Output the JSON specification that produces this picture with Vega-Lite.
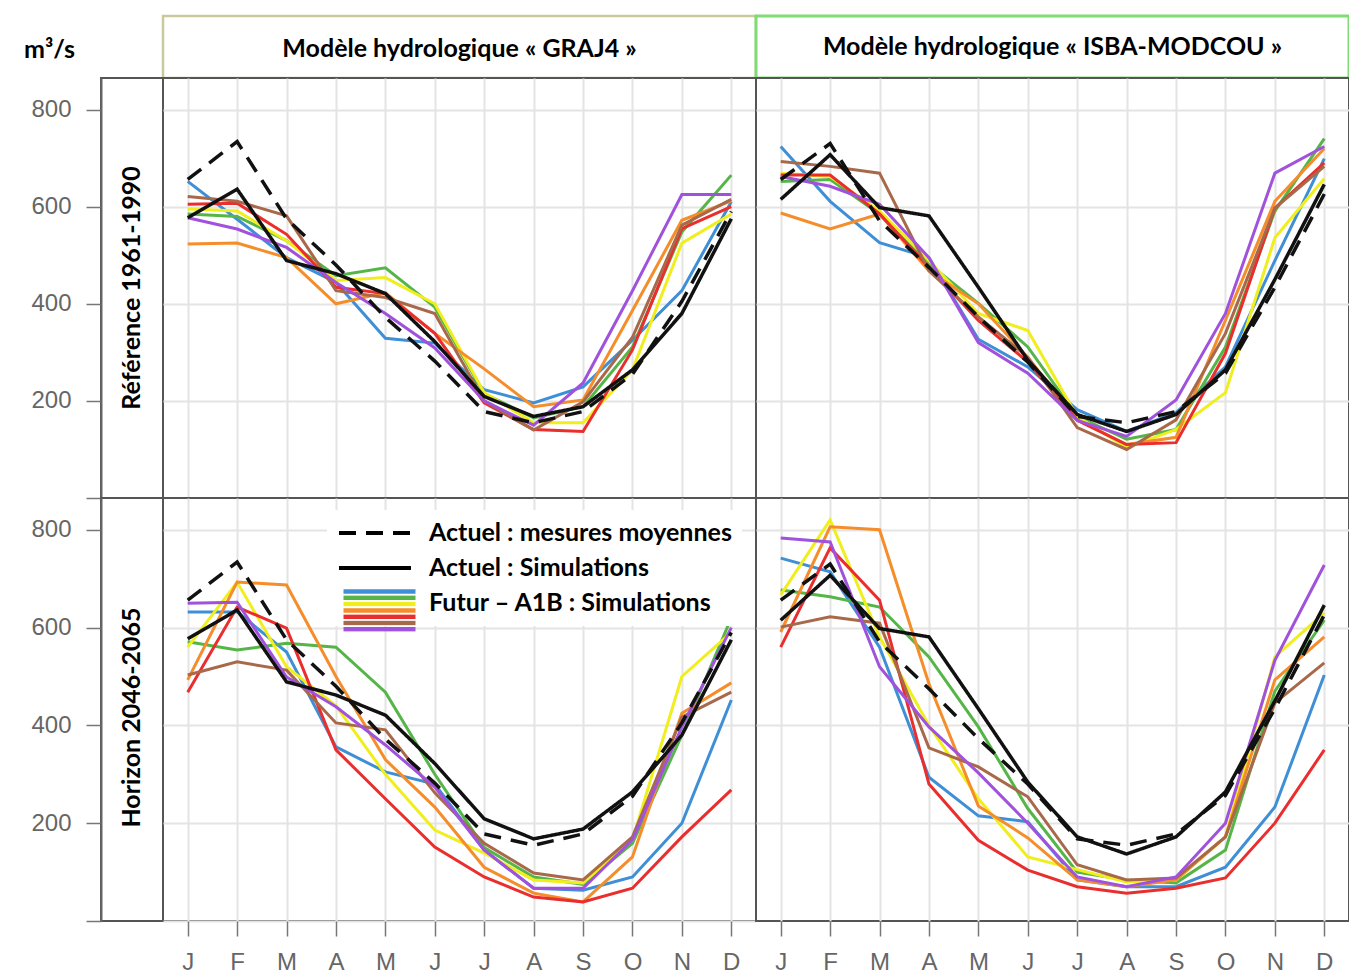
{
"$schema": "https://vega.github.io/schema/vega-lite/v6.json",
"background": "white",
"padding": {"left": 22, "top": 14, "right": 0, "bottom": 0},
"autosize": {"type": "pad"},
"config": {"view": {"stroke": "#555", "strokeWidth": 2, "fill": "white"}},
"datasets": {
"act": [
{"p":"GRAJ4","t":"Actuel : Simulations","m":1,"v":577},{"p":"GRAJ4","t":"Actuel : Simulations","m":2,"v":636},{"p":"GRAJ4","t":"Actuel : Simulations","m":3,"v":489},{"p":"GRAJ4","t":"Actuel : Simulations","m":4,"v":462},{"p":"GRAJ4","t":"Actuel : Simulations","m":5,"v":421},{"p":"GRAJ4","t":"Actuel : Simulations","m":6,"v":322},{"p":"GRAJ4","t":"Actuel : Simulations","m":7,"v":209},{"p":"GRAJ4","t":"Actuel : Simulations","m":8,"v":168},{"p":"GRAJ4","t":"Actuel : Simulations","m":9,"v":188},{"p":"GRAJ4","t":"Actuel : Simulations","m":10,"v":264},{"p":"GRAJ4","t":"Actuel : Simulations","m":11,"v":380},{"p":"GRAJ4","t":"Actuel : Simulations","m":12,"v":575},
{"p":"GRAJ4","t":"Actuel : mesures moyennes","m":1,"v":656},{"p":"GRAJ4","t":"Actuel : mesures moyennes","m":2,"v":734},{"p":"GRAJ4","t":"Actuel : mesures moyennes","m":3,"v":575},{"p":"GRAJ4","t":"Actuel : mesures moyennes","m":4,"v":480},{"p":"GRAJ4","t":"Actuel : mesures moyennes","m":5,"v":372},{"p":"GRAJ4","t":"Actuel : mesures moyennes","m":6,"v":282},{"p":"GRAJ4","t":"Actuel : mesures moyennes","m":7,"v":178},{"p":"GRAJ4","t":"Actuel : mesures moyennes","m":8,"v":155},{"p":"GRAJ4","t":"Actuel : mesures moyennes","m":9,"v":178},{"p":"GRAJ4","t":"Actuel : mesures moyennes","m":10,"v":255},{"p":"GRAJ4","t":"Actuel : mesures moyennes","m":11,"v":405},{"p":"GRAJ4","t":"Actuel : mesures moyennes","m":12,"v":590},
{"p":"ISBA","t":"Actuel : Simulations","m":1,"v":615},{"p":"ISBA","t":"Actuel : Simulations","m":2,"v":707},{"p":"ISBA","t":"Actuel : Simulations","m":3,"v":598},{"p":"ISBA","t":"Actuel : Simulations","m":4,"v":581},{"p":"ISBA","t":"Actuel : Simulations","m":5,"v":434},{"p":"ISBA","t":"Actuel : Simulations","m":6,"v":284},{"p":"ISBA","t":"Actuel : Simulations","m":7,"v":172},{"p":"ISBA","t":"Actuel : Simulations","m":8,"v":137},{"p":"ISBA","t":"Actuel : Simulations","m":9,"v":172},{"p":"ISBA","t":"Actuel : Simulations","m":10,"v":264},{"p":"ISBA","t":"Actuel : Simulations","m":11,"v":450},{"p":"ISBA","t":"Actuel : Simulations","m":12,"v":646},
{"p":"ISBA","t":"Actuel : mesures moyennes","m":1,"v":656},{"p":"ISBA","t":"Actuel : mesures moyennes","m":2,"v":730},{"p":"ISBA","t":"Actuel : mesures moyennes","m":3,"v":571},{"p":"ISBA","t":"Actuel : mesures moyennes","m":4,"v":475},{"p":"ISBA","t":"Actuel : mesures moyennes","m":5,"v":373},{"p":"ISBA","t":"Actuel : mesures moyennes","m":6,"v":280},{"p":"ISBA","t":"Actuel : mesures moyennes","m":7,"v":168},{"p":"ISBA","t":"Actuel : mesures moyennes","m":8,"v":155},{"p":"ISBA","t":"Actuel : mesures moyennes","m":9,"v":178},{"p":"ISBA","t":"Actuel : mesures moyennes","m":10,"v":257},{"p":"ISBA","t":"Actuel : mesures moyennes","m":11,"v":434},{"p":"ISBA","t":"Actuel : mesures moyennes","m":12,"v":626}
],
"fut": [
{"p":"GRAJ4","h":"ref","s":"A1B-1","m":1,"v":652},{"p":"GRAJ4","h":"ref","s":"A1B-1","m":2,"v":574},{"p":"GRAJ4","h":"ref","s":"A1B-1","m":3,"v":495},{"p":"GRAJ4","h":"ref","s":"A1B-1","m":4,"v":444},{"p":"GRAJ4","h":"ref","s":"A1B-1","m":5,"v":329},{"p":"GRAJ4","h":"ref","s":"A1B-1","m":6,"v":319},{"p":"GRAJ4","h":"ref","s":"A1B-1","m":7,"v":223},{"p":"GRAJ4","h":"ref","s":"A1B-1","m":8,"v":196},{"p":"GRAJ4","h":"ref","s":"A1B-1","m":9,"v":229},{"p":"GRAJ4","h":"ref","s":"A1B-1","m":10,"v":325},{"p":"GRAJ4","h":"ref","s":"A1B-1","m":11,"v":427},{"p":"GRAJ4","h":"ref","s":"A1B-1","m":12,"v":610},
{"p":"GRAJ4","h":"ref","s":"A1B-2","m":1,"v":585},{"p":"GRAJ4","h":"ref","s":"A1B-2","m":2,"v":580},{"p":"GRAJ4","h":"ref","s":"A1B-2","m":3,"v":530},{"p":"GRAJ4","h":"ref","s":"A1B-2","m":4,"v":458},{"p":"GRAJ4","h":"ref","s":"A1B-2","m":5,"v":474},{"p":"GRAJ4","h":"ref","s":"A1B-2","m":6,"v":393},{"p":"GRAJ4","h":"ref","s":"A1B-2","m":7,"v":215},{"p":"GRAJ4","h":"ref","s":"A1B-2","m":8,"v":165},{"p":"GRAJ4","h":"ref","s":"A1B-2","m":9,"v":188},{"p":"GRAJ4","h":"ref","s":"A1B-2","m":10,"v":311},{"p":"GRAJ4","h":"ref","s":"A1B-2","m":11,"v":548},{"p":"GRAJ4","h":"ref","s":"A1B-2","m":12,"v":665},
{"p":"GRAJ4","h":"ref","s":"A1B-3","m":1,"v":595},{"p":"GRAJ4","h":"ref","s":"A1B-3","m":2,"v":591},{"p":"GRAJ4","h":"ref","s":"A1B-3","m":3,"v":530},{"p":"GRAJ4","h":"ref","s":"A1B-3","m":4,"v":448},{"p":"GRAJ4","h":"ref","s":"A1B-3","m":5,"v":454},{"p":"GRAJ4","h":"ref","s":"A1B-3","m":6,"v":400},{"p":"GRAJ4","h":"ref","s":"A1B-3","m":7,"v":217},{"p":"GRAJ4","h":"ref","s":"A1B-3","m":8,"v":155},{"p":"GRAJ4","h":"ref","s":"A1B-3","m":9,"v":155},{"p":"GRAJ4","h":"ref","s":"A1B-3","m":10,"v":264},{"p":"GRAJ4","h":"ref","s":"A1B-3","m":11,"v":525},{"p":"GRAJ4","h":"ref","s":"A1B-3","m":12,"v":585},
{"p":"GRAJ4","h":"ref","s":"A1B-4","m":1,"v":523},{"p":"GRAJ4","h":"ref","s":"A1B-4","m":2,"v":525},{"p":"GRAJ4","h":"ref","s":"A1B-4","m":3,"v":495},{"p":"GRAJ4","h":"ref","s":"A1B-4","m":4,"v":400},{"p":"GRAJ4","h":"ref","s":"A1B-4","m":5,"v":423},{"p":"GRAJ4","h":"ref","s":"A1B-4","m":6,"v":339},{"p":"GRAJ4","h":"ref","s":"A1B-4","m":7,"v":266},{"p":"GRAJ4","h":"ref","s":"A1B-4","m":8,"v":188},{"p":"GRAJ4","h":"ref","s":"A1B-4","m":9,"v":202},{"p":"GRAJ4","h":"ref","s":"A1B-4","m":10,"v":386},{"p":"GRAJ4","h":"ref","s":"A1B-4","m":11,"v":572},{"p":"GRAJ4","h":"ref","s":"A1B-4","m":12,"v":612},
{"p":"GRAJ4","h":"ref","s":"A1B-5","m":1,"v":605},{"p":"GRAJ4","h":"ref","s":"A1B-5","m":2,"v":607},{"p":"GRAJ4","h":"ref","s":"A1B-5","m":3,"v":543},{"p":"GRAJ4","h":"ref","s":"A1B-5","m":4,"v":434},{"p":"GRAJ4","h":"ref","s":"A1B-5","m":5,"v":421},{"p":"GRAJ4","h":"ref","s":"A1B-5","m":6,"v":339},{"p":"GRAJ4","h":"ref","s":"A1B-5","m":7,"v":196},{"p":"GRAJ4","h":"ref","s":"A1B-5","m":8,"v":141},{"p":"GRAJ4","h":"ref","s":"A1B-5","m":9,"v":137},{"p":"GRAJ4","h":"ref","s":"A1B-5","m":10,"v":305},{"p":"GRAJ4","h":"ref","s":"A1B-5","m":11,"v":555},{"p":"GRAJ4","h":"ref","s":"A1B-5","m":12,"v":600},
{"p":"GRAJ4","h":"ref","s":"A1B-6","m":1,"v":621},{"p":"GRAJ4","h":"ref","s":"A1B-6","m":2,"v":611},{"p":"GRAJ4","h":"ref","s":"A1B-6","m":3,"v":581},{"p":"GRAJ4","h":"ref","s":"A1B-6","m":4,"v":427},{"p":"GRAJ4","h":"ref","s":"A1B-6","m":5,"v":413},{"p":"GRAJ4","h":"ref","s":"A1B-6","m":6,"v":380},{"p":"GRAJ4","h":"ref","s":"A1B-6","m":7,"v":200},{"p":"GRAJ4","h":"ref","s":"A1B-6","m":8,"v":140},{"p":"GRAJ4","h":"ref","s":"A1B-6","m":9,"v":198},{"p":"GRAJ4","h":"ref","s":"A1B-6","m":10,"v":331},{"p":"GRAJ4","h":"ref","s":"A1B-6","m":11,"v":562},{"p":"GRAJ4","h":"ref","s":"A1B-6","m":12,"v":615},
{"p":"GRAJ4","h":"ref","s":"A1B-7","m":1,"v":577},{"p":"GRAJ4","h":"ref","s":"A1B-7","m":2,"v":554},{"p":"GRAJ4","h":"ref","s":"A1B-7","m":3,"v":516},{"p":"GRAJ4","h":"ref","s":"A1B-7","m":4,"v":444},{"p":"GRAJ4","h":"ref","s":"A1B-7","m":5,"v":380},{"p":"GRAJ4","h":"ref","s":"A1B-7","m":6,"v":309},{"p":"GRAJ4","h":"ref","s":"A1B-7","m":7,"v":200},{"p":"GRAJ4","h":"ref","s":"A1B-7","m":8,"v":150},{"p":"GRAJ4","h":"ref","s":"A1B-7","m":9,"v":237},{"p":"GRAJ4","h":"ref","s":"A1B-7","m":10,"v":427},{"p":"GRAJ4","h":"ref","s":"A1B-7","m":11,"v":625},{"p":"GRAJ4","h":"ref","s":"A1B-7","m":12,"v":625},
{"p":"ISBA","h":"ref","s":"A1B-1","m":1,"v":724},{"p":"ISBA","h":"ref","s":"A1B-1","m":2,"v":611},{"p":"ISBA","h":"ref","s":"A1B-1","m":3,"v":526},{"p":"ISBA","h":"ref","s":"A1B-1","m":4,"v":495},{"p":"ISBA","h":"ref","s":"A1B-1","m":5,"v":327},{"p":"ISBA","h":"ref","s":"A1B-1","m":6,"v":270},{"p":"ISBA","h":"ref","s":"A1B-1","m":7,"v":182},{"p":"ISBA","h":"ref","s":"A1B-1","m":8,"v":137},{"p":"ISBA","h":"ref","s":"A1B-1","m":9,"v":176},{"p":"ISBA","h":"ref","s":"A1B-1","m":10,"v":270},{"p":"ISBA","h":"ref","s":"A1B-1","m":11,"v":489},{"p":"ISBA","h":"ref","s":"A1B-1","m":12,"v":699},
{"p":"ISBA","h":"ref","s":"A1B-2","m":1,"v":652},{"p":"ISBA","h":"ref","s":"A1B-2","m":2,"v":656},{"p":"ISBA","h":"ref","s":"A1B-2","m":3,"v":585},{"p":"ISBA","h":"ref","s":"A1B-2","m":4,"v":482},{"p":"ISBA","h":"ref","s":"A1B-2","m":5,"v":401},{"p":"ISBA","h":"ref","s":"A1B-2","m":6,"v":311},{"p":"ISBA","h":"ref","s":"A1B-2","m":7,"v":168},{"p":"ISBA","h":"ref","s":"A1B-2","m":8,"v":121},{"p":"ISBA","h":"ref","s":"A1B-2","m":9,"v":141},{"p":"ISBA","h":"ref","s":"A1B-2","m":10,"v":311},{"p":"ISBA","h":"ref","s":"A1B-2","m":11,"v":591},{"p":"ISBA","h":"ref","s":"A1B-2","m":12,"v":740},
{"p":"ISBA","h":"ref","s":"A1B-3","m":1,"v":669},{"p":"ISBA","h":"ref","s":"A1B-3","m":2,"v":662},{"p":"ISBA","h":"ref","s":"A1B-3","m":3,"v":591},{"p":"ISBA","h":"ref","s":"A1B-3","m":4,"v":489},{"p":"ISBA","h":"ref","s":"A1B-3","m":5,"v":380},{"p":"ISBA","h":"ref","s":"A1B-3","m":6,"v":345},{"p":"ISBA","h":"ref","s":"A1B-3","m":7,"v":168},{"p":"ISBA","h":"ref","s":"A1B-3","m":8,"v":104},{"p":"ISBA","h":"ref","s":"A1B-3","m":9,"v":141},{"p":"ISBA","h":"ref","s":"A1B-3","m":10,"v":217},{"p":"ISBA","h":"ref","s":"A1B-3","m":11,"v":536},{"p":"ISBA","h":"ref","s":"A1B-3","m":12,"v":658},
{"p":"ISBA","h":"ref","s":"A1B-4","m":1,"v":587},{"p":"ISBA","h":"ref","s":"A1B-4","m":2,"v":554},{"p":"ISBA","h":"ref","s":"A1B-4","m":3,"v":585},{"p":"ISBA","h":"ref","s":"A1B-4","m":4,"v":468},{"p":"ISBA","h":"ref","s":"A1B-4","m":5,"v":400},{"p":"ISBA","h":"ref","s":"A1B-4","m":6,"v":290},{"p":"ISBA","h":"ref","s":"A1B-4","m":7,"v":161},{"p":"ISBA","h":"ref","s":"A1B-4","m":8,"v":110},{"p":"ISBA","h":"ref","s":"A1B-4","m":9,"v":125},{"p":"ISBA","h":"ref","s":"A1B-4","m":10,"v":366},{"p":"ISBA","h":"ref","s":"A1B-4","m":11,"v":611},{"p":"ISBA","h":"ref","s":"A1B-4","m":12,"v":720},
{"p":"ISBA","h":"ref","s":"A1B-5","m":1,"v":665},{"p":"ISBA","h":"ref","s":"A1B-5","m":2,"v":665},{"p":"ISBA","h":"ref","s":"A1B-5","m":3,"v":585},{"p":"ISBA","h":"ref","s":"A1B-5","m":4,"v":475},{"p":"ISBA","h":"ref","s":"A1B-5","m":5,"v":366},{"p":"ISBA","h":"ref","s":"A1B-5","m":6,"v":280},{"p":"ISBA","h":"ref","s":"A1B-5","m":7,"v":160},{"p":"ISBA","h":"ref","s":"A1B-5","m":8,"v":110},{"p":"ISBA","h":"ref","s":"A1B-5","m":9,"v":114},{"p":"ISBA","h":"ref","s":"A1B-5","m":10,"v":298},{"p":"ISBA","h":"ref","s":"A1B-5","m":11,"v":597},{"p":"ISBA","h":"ref","s":"A1B-5","m":12,"v":690},
{"p":"ISBA","h":"ref","s":"A1B-6","m":1,"v":693},{"p":"ISBA","h":"ref","s":"A1B-6","m":2,"v":683},{"p":"ISBA","h":"ref","s":"A1B-6","m":3,"v":669},{"p":"ISBA","h":"ref","s":"A1B-6","m":4,"v":468},{"p":"ISBA","h":"ref","s":"A1B-6","m":5,"v":373},{"p":"ISBA","h":"ref","s":"A1B-6","m":6,"v":290},{"p":"ISBA","h":"ref","s":"A1B-6","m":7,"v":145},{"p":"ISBA","h":"ref","s":"A1B-6","m":8,"v":100},{"p":"ISBA","h":"ref","s":"A1B-6","m":9,"v":161},{"p":"ISBA","h":"ref","s":"A1B-6","m":10,"v":339},{"p":"ISBA","h":"ref","s":"A1B-6","m":11,"v":597},{"p":"ISBA","h":"ref","s":"A1B-6","m":12,"v":683},
{"p":"ISBA","h":"ref","s":"A1B-7","m":1,"v":662},{"p":"ISBA","h":"ref","s":"A1B-7","m":2,"v":642},{"p":"ISBA","h":"ref","s":"A1B-7","m":3,"v":605},{"p":"ISBA","h":"ref","s":"A1B-7","m":4,"v":495},{"p":"ISBA","h":"ref","s":"A1B-7","m":5,"v":320},{"p":"ISBA","h":"ref","s":"A1B-7","m":6,"v":257},{"p":"ISBA","h":"ref","s":"A1B-7","m":7,"v":160},{"p":"ISBA","h":"ref","s":"A1B-7","m":8,"v":127},{"p":"ISBA","h":"ref","s":"A1B-7","m":9,"v":202},{"p":"ISBA","h":"ref","s":"A1B-7","m":10,"v":380},{"p":"ISBA","h":"ref","s":"A1B-7","m":11,"v":669},{"p":"ISBA","h":"ref","s":"A1B-7","m":12,"v":724},
{"p":"GRAJ4","h":"fut","s":"A1B-1","m":1,"v":632},{"p":"GRAJ4","h":"fut","s":"A1B-1","m":2,"v":632},{"p":"GRAJ4","h":"fut","s":"A1B-1","m":3,"v":550},{"p":"GRAJ4","h":"fut","s":"A1B-1","m":4,"v":356},{"p":"GRAJ4","h":"fut","s":"A1B-1","m":5,"v":305},{"p":"GRAJ4","h":"fut","s":"A1B-1","m":6,"v":280},{"p":"GRAJ4","h":"fut","s":"A1B-1","m":7,"v":145},{"p":"GRAJ4","h":"fut","s":"A1B-1","m":8,"v":67},{"p":"GRAJ4","h":"fut","s":"A1B-1","m":9,"v":63},{"p":"GRAJ4","h":"fut","s":"A1B-1","m":10,"v":90},{"p":"GRAJ4","h":"fut","s":"A1B-1","m":11,"v":200},{"p":"GRAJ4","h":"fut","s":"A1B-1","m":12,"v":452},
{"p":"GRAJ4","h":"fut","s":"A1B-2","m":1,"v":571},{"p":"GRAJ4","h":"fut","s":"A1B-2","m":2,"v":554},{"p":"GRAJ4","h":"fut","s":"A1B-2","m":3,"v":568},{"p":"GRAJ4","h":"fut","s":"A1B-2","m":4,"v":560},{"p":"GRAJ4","h":"fut","s":"A1B-2","m":5,"v":468},{"p":"GRAJ4","h":"fut","s":"A1B-2","m":6,"v":300},{"p":"GRAJ4","h":"fut","s":"A1B-2","m":7,"v":150},{"p":"GRAJ4","h":"fut","s":"A1B-2","m":8,"v":90},{"p":"GRAJ4","h":"fut","s":"A1B-2","m":9,"v":75},{"p":"GRAJ4","h":"fut","s":"A1B-2","m":10,"v":159},{"p":"GRAJ4","h":"fut","s":"A1B-2","m":11,"v":380},{"p":"GRAJ4","h":"fut","s":"A1B-2","m":12,"v":620},
{"p":"GRAJ4","h":"fut","s":"A1B-3","m":1,"v":560},{"p":"GRAJ4","h":"fut","s":"A1B-3","m":2,"v":693},{"p":"GRAJ4","h":"fut","s":"A1B-3","m":3,"v":520},{"p":"GRAJ4","h":"fut","s":"A1B-3","m":4,"v":440},{"p":"GRAJ4","h":"fut","s":"A1B-3","m":5,"v":300},{"p":"GRAJ4","h":"fut","s":"A1B-3","m":6,"v":186},{"p":"GRAJ4","h":"fut","s":"A1B-3","m":7,"v":139},{"p":"GRAJ4","h":"fut","s":"A1B-3","m":8,"v":84},{"p":"GRAJ4","h":"fut","s":"A1B-3","m":9,"v":78},{"p":"GRAJ4","h":"fut","s":"A1B-3","m":10,"v":166},{"p":"GRAJ4","h":"fut","s":"A1B-3","m":11,"v":500},{"p":"GRAJ4","h":"fut","s":"A1B-3","m":12,"v":590},
{"p":"GRAJ4","h":"fut","s":"A1B-4","m":1,"v":493},{"p":"GRAJ4","h":"fut","s":"A1B-4","m":2,"v":693},{"p":"GRAJ4","h":"fut","s":"A1B-4","m":3,"v":687},{"p":"GRAJ4","h":"fut","s":"A1B-4","m":4,"v":500},{"p":"GRAJ4","h":"fut","s":"A1B-4","m":5,"v":330},{"p":"GRAJ4","h":"fut","s":"A1B-4","m":6,"v":233},{"p":"GRAJ4","h":"fut","s":"A1B-4","m":7,"v":110},{"p":"GRAJ4","h":"fut","s":"A1B-4","m":8,"v":57},{"p":"GRAJ4","h":"fut","s":"A1B-4","m":9,"v":39},{"p":"GRAJ4","h":"fut","s":"A1B-4","m":10,"v":131},{"p":"GRAJ4","h":"fut","s":"A1B-4","m":11,"v":425},{"p":"GRAJ4","h":"fut","s":"A1B-4","m":12,"v":487},
{"p":"GRAJ4","h":"fut","s":"A1B-5","m":1,"v":468},{"p":"GRAJ4","h":"fut","s":"A1B-5","m":2,"v":642},{"p":"GRAJ4","h":"fut","s":"A1B-5","m":3,"v":599},{"p":"GRAJ4","h":"fut","s":"A1B-5","m":4,"v":350},{"p":"GRAJ4","h":"fut","s":"A1B-5","m":5,"v":250},{"p":"GRAJ4","h":"fut","s":"A1B-5","m":6,"v":151},{"p":"GRAJ4","h":"fut","s":"A1B-5","m":7,"v":90},{"p":"GRAJ4","h":"fut","s":"A1B-5","m":8,"v":49},{"p":"GRAJ4","h":"fut","s":"A1B-5","m":9,"v":39},{"p":"GRAJ4","h":"fut","s":"A1B-5","m":10,"v":67},{"p":"GRAJ4","h":"fut","s":"A1B-5","m":11,"v":172},{"p":"GRAJ4","h":"fut","s":"A1B-5","m":12,"v":268},
{"p":"GRAJ4","h":"fut","s":"A1B-6","m":1,"v":503},{"p":"GRAJ4","h":"fut","s":"A1B-6","m":2,"v":530},{"p":"GRAJ4","h":"fut","s":"A1B-6","m":3,"v":513},{"p":"GRAJ4","h":"fut","s":"A1B-6","m":4,"v":405},{"p":"GRAJ4","h":"fut","s":"A1B-6","m":5,"v":391},{"p":"GRAJ4","h":"fut","s":"A1B-6","m":6,"v":262},{"p":"GRAJ4","h":"fut","s":"A1B-6","m":7,"v":159},{"p":"GRAJ4","h":"fut","s":"A1B-6","m":8,"v":98},{"p":"GRAJ4","h":"fut","s":"A1B-6","m":9,"v":84},{"p":"GRAJ4","h":"fut","s":"A1B-6","m":10,"v":172},{"p":"GRAJ4","h":"fut","s":"A1B-6","m":11,"v":417},{"p":"GRAJ4","h":"fut","s":"A1B-6","m":12,"v":468},
{"p":"GRAJ4","h":"fut","s":"A1B-7","m":1,"v":650},{"p":"GRAJ4","h":"fut","s":"A1B-7","m":2,"v":652},{"p":"GRAJ4","h":"fut","s":"A1B-7","m":3,"v":499},{"p":"GRAJ4","h":"fut","s":"A1B-7","m":4,"v":438},{"p":"GRAJ4","h":"fut","s":"A1B-7","m":5,"v":360},{"p":"GRAJ4","h":"fut","s":"A1B-7","m":6,"v":274},{"p":"GRAJ4","h":"fut","s":"A1B-7","m":7,"v":145},{"p":"GRAJ4","h":"fut","s":"A1B-7","m":8,"v":67},{"p":"GRAJ4","h":"fut","s":"A1B-7","m":9,"v":67},{"p":"GRAJ4","h":"fut","s":"A1B-7","m":10,"v":166},{"p":"GRAJ4","h":"fut","s":"A1B-7","m":11,"v":397},{"p":"GRAJ4","h":"fut","s":"A1B-7","m":12,"v":600},
{"p":"ISBA","h":"fut","s":"A1B-1","m":1,"v":742},{"p":"ISBA","h":"fut","s":"A1B-1","m":2,"v":714},{"p":"ISBA","h":"fut","s":"A1B-1","m":3,"v":560},{"p":"ISBA","h":"fut","s":"A1B-1","m":4,"v":294},{"p":"ISBA","h":"fut","s":"A1B-1","m":5,"v":215},{"p":"ISBA","h":"fut","s":"A1B-1","m":6,"v":203},{"p":"ISBA","h":"fut","s":"A1B-1","m":7,"v":84},{"p":"ISBA","h":"fut","s":"A1B-1","m":8,"v":70},{"p":"ISBA","h":"fut","s":"A1B-1","m":9,"v":70},{"p":"ISBA","h":"fut","s":"A1B-1","m":10,"v":110},{"p":"ISBA","h":"fut","s":"A1B-1","m":11,"v":233},{"p":"ISBA","h":"fut","s":"A1B-1","m":12,"v":503},
{"p":"ISBA","h":"fut","s":"A1B-2","m":1,"v":677},{"p":"ISBA","h":"fut","s":"A1B-2","m":2,"v":663},{"p":"ISBA","h":"fut","s":"A1B-2","m":3,"v":642},{"p":"ISBA","h":"fut","s":"A1B-2","m":4,"v":540},{"p":"ISBA","h":"fut","s":"A1B-2","m":5,"v":397},{"p":"ISBA","h":"fut","s":"A1B-2","m":6,"v":230},{"p":"ISBA","h":"fut","s":"A1B-2","m":7,"v":100},{"p":"ISBA","h":"fut","s":"A1B-2","m":8,"v":84},{"p":"ISBA","h":"fut","s":"A1B-2","m":9,"v":78},{"p":"ISBA","h":"fut","s":"A1B-2","m":10,"v":145},{"p":"ISBA","h":"fut","s":"A1B-2","m":11,"v":470},{"p":"ISBA","h":"fut","s":"A1B-2","m":12,"v":615},
{"p":"ISBA","h":"fut","s":"A1B-3","m":1,"v":667},{"p":"ISBA","h":"fut","s":"A1B-3","m":2,"v":820},{"p":"ISBA","h":"fut","s":"A1B-3","m":3,"v":581},{"p":"ISBA","h":"fut","s":"A1B-3","m":4,"v":400},{"p":"ISBA","h":"fut","s":"A1B-3","m":5,"v":250},{"p":"ISBA","h":"fut","s":"A1B-3","m":6,"v":131},{"p":"ISBA","h":"fut","s":"A1B-3","m":7,"v":105},{"p":"ISBA","h":"fut","s":"A1B-3","m":8,"v":80},{"p":"ISBA","h":"fut","s":"A1B-3","m":9,"v":84},{"p":"ISBA","h":"fut","s":"A1B-3","m":10,"v":172},{"p":"ISBA","h":"fut","s":"A1B-3","m":11,"v":540},{"p":"ISBA","h":"fut","s":"A1B-3","m":12,"v":630},
{"p":"ISBA","h":"fut","s":"A1B-4","m":1,"v":591},{"p":"ISBA","h":"fut","s":"A1B-4","m":2,"v":806},{"p":"ISBA","h":"fut","s":"A1B-4","m":3,"v":800},{"p":"ISBA","h":"fut","s":"A1B-4","m":4,"v":485},{"p":"ISBA","h":"fut","s":"A1B-4","m":5,"v":235},{"p":"ISBA","h":"fut","s":"A1B-4","m":6,"v":170},{"p":"ISBA","h":"fut","s":"A1B-4","m":7,"v":84},{"p":"ISBA","h":"fut","s":"A1B-4","m":8,"v":70},{"p":"ISBA","h":"fut","s":"A1B-4","m":9,"v":84},{"p":"ISBA","h":"fut","s":"A1B-4","m":10,"v":172},{"p":"ISBA","h":"fut","s":"A1B-4","m":11,"v":493},{"p":"ISBA","h":"fut","s":"A1B-4","m":12,"v":581},
{"p":"ISBA","h":"fut","s":"A1B-5","m":1,"v":560},{"p":"ISBA","h":"fut","s":"A1B-5","m":2,"v":763},{"p":"ISBA","h":"fut","s":"A1B-5","m":3,"v":656},{"p":"ISBA","h":"fut","s":"A1B-5","m":4,"v":280},{"p":"ISBA","h":"fut","s":"A1B-5","m":5,"v":165},{"p":"ISBA","h":"fut","s":"A1B-5","m":6,"v":104},{"p":"ISBA","h":"fut","s":"A1B-5","m":7,"v":70},{"p":"ISBA","h":"fut","s":"A1B-5","m":8,"v":57},{"p":"ISBA","h":"fut","s":"A1B-5","m":9,"v":67},{"p":"ISBA","h":"fut","s":"A1B-5","m":10,"v":88},{"p":"ISBA","h":"fut","s":"A1B-5","m":11,"v":200},{"p":"ISBA","h":"fut","s":"A1B-5","m":12,"v":350},
{"p":"ISBA","h":"fut","s":"A1B-6","m":1,"v":601},{"p":"ISBA","h":"fut","s":"A1B-6","m":2,"v":622},{"p":"ISBA","h":"fut","s":"A1B-6","m":3,"v":609},{"p":"ISBA","h":"fut","s":"A1B-6","m":4,"v":354},{"p":"ISBA","h":"fut","s":"A1B-6","m":5,"v":315},{"p":"ISBA","h":"fut","s":"A1B-6","m":6,"v":254},{"p":"ISBA","h":"fut","s":"A1B-6","m":7,"v":115},{"p":"ISBA","h":"fut","s":"A1B-6","m":8,"v":84},{"p":"ISBA","h":"fut","s":"A1B-6","m":9,"v":88},{"p":"ISBA","h":"fut","s":"A1B-6","m":10,"v":172},{"p":"ISBA","h":"fut","s":"A1B-6","m":11,"v":446},{"p":"ISBA","h":"fut","s":"A1B-6","m":12,"v":528},
{"p":"ISBA","h":"fut","s":"A1B-7","m":1,"v":783},{"p":"ISBA","h":"fut","s":"A1B-7","m":2,"v":775},{"p":"ISBA","h":"fut","s":"A1B-7","m":3,"v":520},{"p":"ISBA","h":"fut","s":"A1B-7","m":4,"v":397},{"p":"ISBA","h":"fut","s":"A1B-7","m":5,"v":303},{"p":"ISBA","h":"fut","s":"A1B-7","m":6,"v":200},{"p":"ISBA","h":"fut","s":"A1B-7","m":7,"v":90},{"p":"ISBA","h":"fut","s":"A1B-7","m":8,"v":70},{"p":"ISBA","h":"fut","s":"A1B-7","m":9,"v":90},{"p":"ISBA","h":"fut","s":"A1B-7","m":10,"v":200},{"p":"ISBA","h":"fut","s":"A1B-7","m":11,"v":533},{"p":"ISBA","h":"fut","s":"A1B-7","m":12,"v":728}
]
},
"columns": 3,
"spacing": 0,
"bounds": "flush",
"align": "each",
"resolve": {"scale": {"color": "shared", "strokeDash": "shared"}, "legend": {"color": "shared", "strokeDash": "shared"}},
"concat": [
{"width": 62, "height": 62, "view": {"stroke": null, "fill": null}, "data": {"values": []}, "mark": "text", "encoding": {}},
{"width": 593, "height": 62, "view": {"stroke": "#c9c99b", "strokeWidth": 2.5, "fill": "white"},
 "data": {"values": [{"t": "Modèle hydrologique « GRAJ4 »"}]},
 "mark": {"type": "text", "font": "Lato", "fontSize": 25, "fontWeight": "bold", "color": "black", "dy": 2},
 "encoding": {"text": {"field": "t"}}},
{"width": 593, "height": 62, "view": {"stroke": "#7fdc74", "strokeWidth": 3, "fill": "white"},
 "data": {"values": [{"t": "Modèle hydrologique « ISBA-MODCOU »"}]},
 "mark": {"type": "text", "font": "Lato", "fontSize": 25, "fontWeight": "bold", "color": "black"},
 "encoding": {"text": {"field": "t"}}},
{"width": 62, "height": 420, "view": {"stroke": "#555", "strokeWidth": 2, "fill": "white"},
 "data": {"values": [{"t": "Référence 1961-1990"}]},
 "mark": {"type": "text", "angle": 270, "font": "Lato", "fontSize": 25, "fontWeight": "bold", "color": "black"},
 "encoding": {"text": {"field": "t"}}},
{"width": 593, "height": 420,
 "encoding": {
  "x": {"field": "m", "type": "ordinal", "scale": {"type": "point", "padding": 0.5}, "axis": {"grid": true, "gridColor": "#e4e4e4", "gridWidth": 2, "labels": false, "ticks": false, "domain": false, "title": null}},
  "y": {"field": "v", "type": "quantitative", "scale": {"domain": [0, 865], "nice": false}, "axis": {"values": [0, 200, 400, 600, 800], "labelExpr": "datum.value === 0 ? '' : datum.label", "offset": 62, "tickSize": 15, "tickColor": "#777", "tickWidth": 1.5, "domainColor": "#666", "domainWidth": 2, "labelFont": "Liberation Sans", "labelFontSize": 24, "labelColor": "#666", "labelPadding": 15, "labelOverlap": false, "grid": true, "gridColor": "#e4e4e4", "gridWidth": 2, "title": "m³/s", "titleAngle": 0, "titleX": -52, "titleY": -29, "titleAlign": "center", "titleBaseline": "middle", "titleFont": "Lato", "titleFontSize": 25, "titleFontWeight": "bold", "titleColor": "black"}}
 },
 "layer": [
  {"data": {"name": "fut"}, "transform": [{"filter": "datum.p === 'GRAJ4' && datum.h === 'ref'"}],
   "mark": {"type": "line", "strokeWidth": 3},
   "encoding": {"color": {"field": "s", "type": "nominal", "scale": {"domain": ["A1B-1","A1B-2","A1B-3","A1B-4","A1B-5","A1B-6","A1B-7"], "range": ["#3f8fd6","#55b548","#f0ee1c","#f58d2a","#ea2e2e","#a8694a","#a052dc"]},
     "legend": {"orient": "none", "legendX": 240, "legendY": 573, "title": null, "labelExpr": "''", "labelFontSize": 1, "symbolType": "stroke", "symbolSize": 5184, "symbolStrokeWidth": 4.5, "clipHeight": 5, "rowPadding": 1.3, "padding": 0, "zindex": 3}}}},
  {"data": {"name": "act"}, "transform": [{"filter": "datum.p === 'GRAJ4'"}],
   "mark": {"type": "line", "color": "#111", "strokeWidth": 3.5},
   "encoding": {"strokeDash": {"field": "t", "type": "nominal", "scale": {"domain": ["Actuel : mesures moyennes","Actuel : Simulations","Futur – A1B : Simulations"], "range": [[17,10],[1,0],[1,0]]},
     "legend": {"orient": "none", "legendX": 226, "legendY": 494, "title": null, "symbolType": "stroke", "symbolSize": 5184, "symbolStrokeWidth": 4, "symbolStrokeColor": "black", "clipHeight": 26, "rowPadding": 9, "padding": 10, "fillColor": "white", "labelFont": "Lato", "labelFontSize": 25, "labelFontWeight": "bold", "labelColor": "black", "labelLimit": 500, "labelOffset": 16, "zindex": 2,
       "encode": {"symbols": {"update": {"strokeOpacity": {"signal": "datum.value === 'Futur – A1B : Simulations' ? 0 : 1"}}}}}}}}
 ]},
{"width": 593, "height": 420,
 "encoding": {
  "x": {"field": "m", "type": "ordinal", "scale": {"type": "point", "padding": 0.5}, "axis": {"grid": true, "gridColor": "#e4e4e4", "gridWidth": 2, "labels": false, "ticks": false, "domain": false, "title": null}},
  "y": {"field": "v", "type": "quantitative", "scale": {"domain": [0, 865], "nice": false}, "axis": {"values": [200, 400, 600, 800], "grid": true, "gridColor": "#e4e4e4", "gridWidth": 2, "labels": false, "ticks": false, "domain": false, "title": null}}
 },
 "layer": [
  {"data": {"name": "fut"}, "transform": [{"filter": "datum.p === 'ISBA' && datum.h === 'ref'"}],
   "mark": {"type": "line", "strokeWidth": 3},
   "encoding": {"color": {"field": "s", "type": "nominal", "scale": {"domain": ["A1B-1","A1B-2","A1B-3","A1B-4","A1B-5","A1B-6","A1B-7"], "range": ["#3f8fd6","#55b548","#f0ee1c","#f58d2a","#ea2e2e","#a8694a","#a052dc"]},
     "legend": {"orient": "none", "legendX": 240, "legendY": 573, "title": null, "labelExpr": "''", "labelFontSize": 1, "symbolType": "stroke", "symbolSize": 5184, "symbolStrokeWidth": 4.5, "clipHeight": 5, "rowPadding": 1.3, "padding": 0, "zindex": 3}}}},
  {"data": {"name": "act"}, "transform": [{"filter": "datum.p === 'ISBA'"}],
   "mark": {"type": "line", "color": "#111", "strokeWidth": 3.5},
   "encoding": {"strokeDash": {"field": "t", "type": "nominal", "scale": {"domain": ["Actuel : mesures moyennes","Actuel : Simulations","Futur – A1B : Simulations"], "range": [[17,10],[1,0],[1,0]]},
     "legend": {"orient": "none", "legendX": 226, "legendY": 494, "title": null, "symbolType": "stroke", "symbolSize": 5184, "symbolStrokeWidth": 4, "symbolStrokeColor": "black", "clipHeight": 26, "rowPadding": 9, "padding": 10, "fillColor": "white", "labelFont": "Lato", "labelFontSize": 25, "labelFontWeight": "bold", "labelColor": "black", "labelLimit": 500, "labelOffset": 16, "zindex": 2,
       "encode": {"symbols": {"update": {"strokeOpacity": {"signal": "datum.value === 'Futur – A1B : Simulations' ? 0 : 1"}}}}}}}}
 ]},
{"width": 62, "height": 423, "view": {"stroke": "#555", "strokeWidth": 2, "fill": "white"},
 "data": {"values": [{"t": "Horizon 2046-2065"}]},
 "mark": {"type": "text", "angle": 270, "font": "Lato", "fontSize": 25, "fontWeight": "bold", "color": "black", "dx": -8},
 "encoding": {"text": {"field": "t"}}},
{"width": 593, "height": 423,
 "encoding": {
  "x": {"field": "m", "type": "ordinal", "scale": {"type": "point", "padding": 0.5}, "axis": {"labelExpr": "['J','F','M','A','M','J','J','A','S','O','N','D'][datum.value - 1]", "labelAngle": 0, "tickSize": 15, "tickColor": "#777", "tickWidth": 1.5, "domain": false, "labelFont": "Liberation Sans", "labelFontSize": 24, "labelColor": "#666", "labelPadding": 14, "grid": true, "gridColor": "#e4e4e4", "gridWidth": 2, "title": null}},
  "y": {"field": "v", "type": "quantitative", "scale": {"domain": [0, 865], "nice": false}, "axis": {"values": [0, 200, 400, 600, 800], "labelExpr": "datum.value === 0 ? '' : datum.label", "offset": 62, "tickSize": 15, "tickColor": "#777", "tickWidth": 1.5, "domainColor": "#666", "domainWidth": 2, "labelFont": "Liberation Sans", "labelFontSize": 24, "labelColor": "#666", "labelPadding": 15, "labelOverlap": false, "grid": true, "gridColor": "#e4e4e4", "gridWidth": 2, "title": null}}
 },
 "layer": [
  {"data": {"name": "fut"}, "transform": [{"filter": "datum.p === 'GRAJ4' && datum.h === 'fut'"}],
   "mark": {"type": "line", "strokeWidth": 3},
   "encoding": {"color": {"field": "s", "type": "nominal", "scale": {"domain": ["A1B-1","A1B-2","A1B-3","A1B-4","A1B-5","A1B-6","A1B-7"], "range": ["#3f8fd6","#55b548","#f0ee1c","#f58d2a","#ea2e2e","#a8694a","#a052dc"]},
     "legend": {"orient": "none", "legendX": 240, "legendY": 573, "title": null, "labelExpr": "''", "labelFontSize": 1, "symbolType": "stroke", "symbolSize": 5184, "symbolStrokeWidth": 4.5, "clipHeight": 5, "rowPadding": 1.3, "padding": 0, "zindex": 3}}}},
  {"data": {"name": "act"}, "transform": [{"filter": "datum.p === 'GRAJ4'"}],
   "mark": {"type": "line", "color": "#111", "strokeWidth": 3.5},
   "encoding": {"strokeDash": {"field": "t", "type": "nominal", "scale": {"domain": ["Actuel : mesures moyennes","Actuel : Simulations","Futur – A1B : Simulations"], "range": [[17,10],[1,0],[1,0]]},
     "legend": {"orient": "none", "legendX": 226, "legendY": 494, "title": null, "symbolType": "stroke", "symbolSize": 5184, "symbolStrokeWidth": 4, "symbolStrokeColor": "black", "clipHeight": 26, "rowPadding": 9, "padding": 10, "fillColor": "white", "labelFont": "Lato", "labelFontSize": 25, "labelFontWeight": "bold", "labelColor": "black", "labelLimit": 500, "labelOffset": 16, "zindex": 2,
       "encode": {"symbols": {"update": {"strokeOpacity": {"signal": "datum.value === 'Futur – A1B : Simulations' ? 0 : 1"}}}}}}}}
 ]},
{"width": 593, "height": 423,
 "encoding": {
  "x": {"field": "m", "type": "ordinal", "scale": {"type": "point", "padding": 0.5}, "axis": {"labelExpr": "['J','F','M','A','M','J','J','A','S','O','N','D'][datum.value - 1]", "labelAngle": 0, "tickSize": 15, "tickColor": "#777", "tickWidth": 1.5, "domain": false, "labelFont": "Liberation Sans", "labelFontSize": 24, "labelColor": "#666", "labelPadding": 14, "grid": true, "gridColor": "#e4e4e4", "gridWidth": 2, "title": null}},
  "y": {"field": "v", "type": "quantitative", "scale": {"domain": [0, 865], "nice": false}, "axis": {"values": [200, 400, 600, 800], "grid": true, "gridColor": "#e4e4e4", "gridWidth": 2, "labels": false, "ticks": false, "domain": false, "title": null}}
 },
 "layer": [
  {"data": {"name": "fut"}, "transform": [{"filter": "datum.p === 'ISBA' && datum.h === 'fut'"}],
   "mark": {"type": "line", "strokeWidth": 3},
   "encoding": {"color": {"field": "s", "type": "nominal", "scale": {"domain": ["A1B-1","A1B-2","A1B-3","A1B-4","A1B-5","A1B-6","A1B-7"], "range": ["#3f8fd6","#55b548","#f0ee1c","#f58d2a","#ea2e2e","#a8694a","#a052dc"]},
     "legend": {"orient": "none", "legendX": 240, "legendY": 573, "title": null, "labelExpr": "''", "labelFontSize": 1, "symbolType": "stroke", "symbolSize": 5184, "symbolStrokeWidth": 4.5, "clipHeight": 5, "rowPadding": 1.3, "padding": 0, "zindex": 3}}}},
  {"data": {"name": "act"}, "transform": [{"filter": "datum.p === 'ISBA'"}],
   "mark": {"type": "line", "color": "#111", "strokeWidth": 3.5},
   "encoding": {"strokeDash": {"field": "t", "type": "nominal", "scale": {"domain": ["Actuel : mesures moyennes","Actuel : Simulations","Futur – A1B : Simulations"], "range": [[17,10],[1,0],[1,0]]},
     "legend": {"orient": "none", "legendX": 226, "legendY": 494, "title": null, "symbolType": "stroke", "symbolSize": 5184, "symbolStrokeWidth": 4, "symbolStrokeColor": "black", "clipHeight": 26, "rowPadding": 9, "padding": 10, "fillColor": "white", "labelFont": "Lato", "labelFontSize": 25, "labelFontWeight": "bold", "labelColor": "black", "labelLimit": 500, "labelOffset": 16, "zindex": 2,
       "encode": {"symbols": {"update": {"strokeOpacity": {"signal": "datum.value === 'Futur – A1B : Simulations' ? 0 : 1"}}}}}}}}
 ]}
]
}
